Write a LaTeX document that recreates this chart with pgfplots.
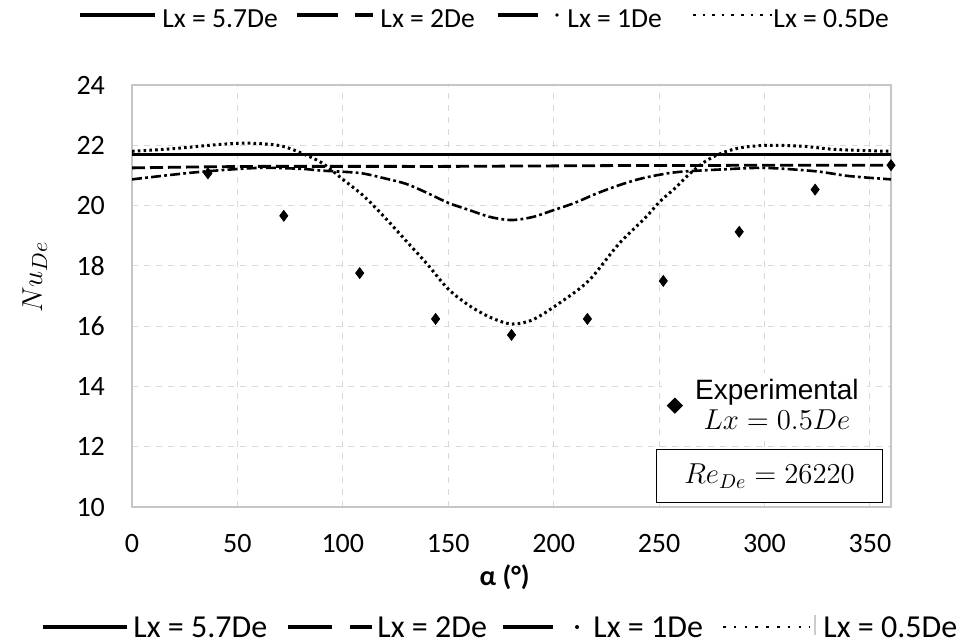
\documentclass[border=0pt]{standalone}
\usepackage{fontspec}
\setmainfont{Carlito}
\newfontfamily\arial{Liberation Sans}
\usepackage{pgfplots}
\pgfplotsset{compat=1.18}
\begin{document}
\begin{tikzpicture}
\useasboundingbox (0,0) rectangle (480.5pt,-321pt);
\begin{axis}[
 at={(66pt,-253.5pt)}, anchor=south west,
 width=379.5pt, height=211pt, scale only axis,
 xmin=0, xmax=360, ymin=10, ymax=24,
 xtick={0,50,...,350}, ytick={10,12,...,24},
 grid=major, grid style={dashed, color=gray!30, line width=0.5pt},
 axis line style={color=gray!45, line width=0.8pt},
 tick style={draw=none},
 ticklabel style={font=\fontsize{14}{16}\selectfont},
 /pgf/number format/assume math mode=true,
 yticklabel style={xshift=-10pt},
 xticklabel style={yshift=-10pt},
 xlabel={\bfseries α (°)}, ylabel={$Nu_{De}$},
 xlabel style={at={(axis description cs:0.491,-0.166)}, anchor=center, font=\fontsize{14}{16}\selectfont},
 ylabel style={at={(axis description cs:-0.128,0.545)}, anchor=center, font=\fontsize{15.5}{18}\selectfont},
 legend style={at={(axis cs:251.4,14.46)}, anchor=north west, draw=none, fill=white,
   font=\arial\fontsize{14}{16}\selectfont, cells={align=center}, inner xsep=2pt, inner ysep=1pt},
 legend cell align=center,
]
% Lx = 5.7De
\addplot[black, line width=1.3pt, forget plot] coordinates {(0,21.7) (360,21.7)};
% Lx = 2De
\addplot[black, line width=1.4pt, dash pattern=on 6.5pt off 2.5pt, smooth, forget plot] coordinates {
(0,21.25) (30,21.28) (60,21.3) (90,21.3) (120,21.3) (150,21.3) (180,21.31) (210,21.32) (240,21.33) (270,21.33) (300,21.34) (330,21.34) (360,21.34)};
% Lx = 1De
\addplot[black, line width=1.3pt, dash pattern=on 5pt off 1.6pt on 1.4pt off 1.6pt, smooth, forget plot] coordinates {
(0,20.87) (20,21.03) (36,21.14) (60,21.25) (80,21.22) (90,21.16) (108,21.08) (120,20.9) (130,20.72) (140,20.42) (150,20.09) (160,19.85) (170,19.62) (180,19.52) (190,19.62) (200,19.85) (210,20.09) (220,20.39) (230,20.65) (240,20.87) (250,21.02) (260,21.12) (280,21.2) (300,21.25) (324,21.14) (340,20.98) (360,20.87)};
% Lx = 0.5De
\addplot[black, line width=1.5pt, dash pattern=on 1.3pt off 1.6pt, smooth, forget plot] coordinates {
(0,21.8) (20,21.89) (40,22.02) (55,22.07) (70,21.99) (80,21.75) (90,21.42) (100,20.87) (110,20.31) (120,19.6) (130,18.83) (140,18.06) (150,17.23) (160,16.68) (170,16.29) (180,16.07) (190,16.21) (202,16.73) (216.5,17.5) (230.8,18.72) (243.5,19.6) (250.6,20.15) (257.8,20.59) (264.1,21.03) (272,21.47) (280,21.75) (289.5,21.93) (302.2,22.0) (318,21.97) (334,21.86) (360,21.8)};
% Experimental
\addplot[only marks, mark=diamond*, mark size=2.7pt, black,
  legend image code/.code={\fill[black] (4pt,3.75pt) -- (7.75pt,0pt) -- (4pt,-3.75pt) -- (0.25pt,0pt) -- cycle; \path (0,0) (12pt,0);}]
 coordinates {(36,21.07) (72,19.66) (108,17.76) (144,16.24) (180,15.71) (216,16.24) (252,17.5) (288,19.13) (324,20.53) (360,21.34)};
\addlegendentry{Experimental\\[-1pt]$Lx=0.5De$}
\node[draw=black, line width=0.5pt, fill=white, minimum width=113pt, minimum height=26.5pt, inner sep=0pt,
  font=\fontsize{14}{16}\selectfont] at (axis cs:302.4,11.02) {$Re_{De}=26220$};
\end{axis}
\begin{scope}[x=0.5pt,y=-0.5pt]
% top legend
\begin{scope}[line width=2pt]
\draw (80,15) -- (155,15);
\draw (297,15) -- (338,15); \draw (355,15) -- (373,15);
\draw (498,15) -- (538,15); \fill (557,15) circle[radius=0.9pt];
\draw[line width=1.3pt, dash pattern=on 1.3pt off 3.5pt] (693,15) -- (772,15);
\end{scope}
\begin{scope}[every node/.style={anchor=base west, inner sep=0pt, font=\fontsize{13.8}{16}\selectfont}]
\node at (162,28) {Lx = 5.7De};
\node at (380,28) {Lx = 2De};
\node at (567,28) {Lx = 1De};
\node at (773,28) {Lx = 0.5De};
\end{scope}
% bottom legend
\begin{scope}[line width=2pt]
\draw (43,627) -- (127,627);
\draw (288,627) -- (332,627); \draw (350,627) -- (372,627);
\draw (503,627) -- (553,627); \fill (577,627) circle[radius=1pt];
\draw[line width=1.3pt, dash pattern=on 1.3pt off 4.1pt] (723,627) -- (810,627);
\draw[gray!40, line width=0.6pt] (815,615) -- (815,635);
\end{scope}
\begin{scope}[every node/.style={anchor=base west, inner sep=0pt, font=\fontsize{16}{18}\selectfont}]
\node at (133,637) {Lx = 5.7De};
\node at (377,637) {Lx = 2De};
\node at (593,637) {Lx = 1De};
\node at (823,637) {Lx = 0.5De};
\end{scope}
\end{scope}
\end{tikzpicture}
\end{document}
